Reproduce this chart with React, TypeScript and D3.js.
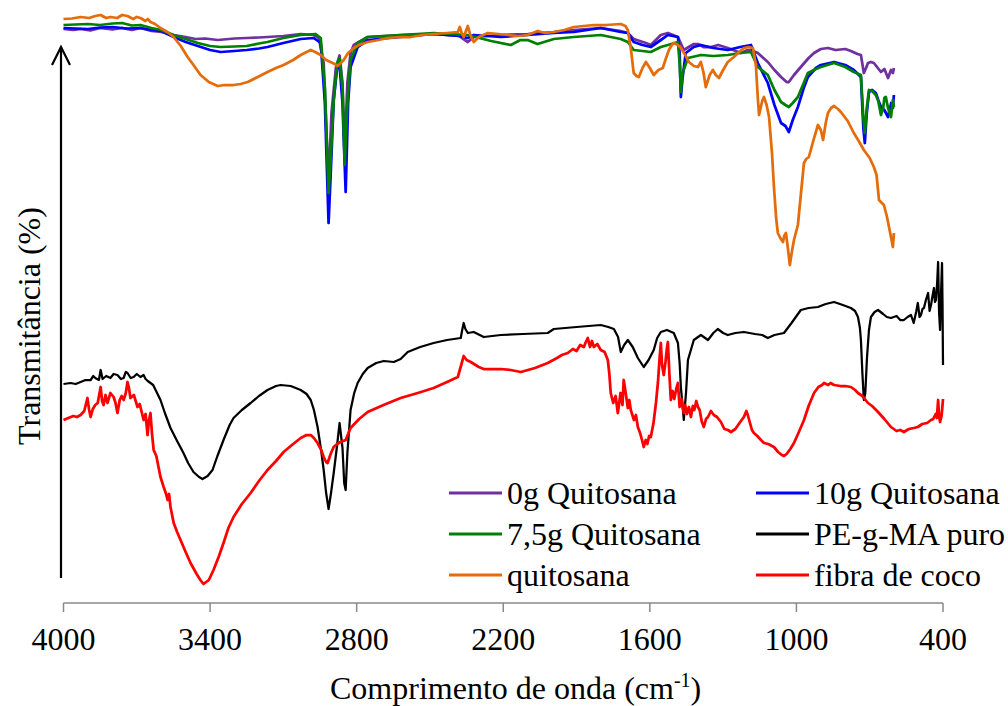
import React from "react";
import * as d3 from "d3";

type Pt = [number, number];

const xTicks: number[] = [4000, 3400, 2800, 2200, 1600, 1000, 400];

const seriesNames: string[] = [
  "0g Quitosana",
  "10g Quitosana",
  "7,5g Quitosana",
  "PE-g-MA puro",
  "quitosana",
  "fibra de coco",
];

const seriesColors: string[] = ["#7030A0", "#0000FF", "#008000", "#000000", "#E46C0A", "#FF0000"];

const q0: Pt[] = [
  [4000, 114.8], [3960, 114.6], [3930, 114.8], [3890, 114.5], [3850, 115], [3800, 114.7], [3760, 115], [3720, 114.6], [3685, 115],
  [3640, 114.4], [3600, 114.2], [3549, 113.6], [3500, 113.2], [3460, 112.8], [3420, 112.9], [3369, 112.6], [3300, 112.9], [3250, 113],
  [3200, 113.1], [3165, 113.2], [3100, 113.4], [3029, 113.8], [2975, 113.6], [2955, 113], [2935, 108], [2915, 84], [2903, 98],
  [2885, 107], [2870, 109.5], [2858, 104], [2849, 90], [2838, 104], [2825, 110], [2812, 111.6], [2755, 113.2], [2620, 113.6],
  [2485, 113.8], [2380, 113.4], [2345, 112.2], [2320, 113.2], [2210, 113.6], [2100, 113.8], [1993, 114.2], [1911, 114.6],
  [1801, 115], [1719, 114.4], [1690, 114], [1666, 112.8], [1616, 112], [1596, 111.6], [1555, 113.6], [1526, 114], [1485, 113.2],
  [1461, 110.6], [1420, 111.8], [1403, 111.8], [1380, 111.2], [1350, 111.2], [1320, 111.6], [1281, 111], [1227, 110], [1200, 110.6],
  [1186, 110.6], [1158, 110], [1117, 108.2], [1090, 106.6], [1063, 105.2], [1040, 104.2], [1031, 104.2], [1010, 105.6], [982, 107.2],
  [950, 109], [928, 110], [900, 110.8], [871, 111], [840, 110.6], [800, 110.8], [777, 110.4], [750, 109.8], [736, 109.6], [724, 106],
  [715, 107], [707, 108], [695, 108.2], [683, 108], [670, 107.2], [654, 106.2], [640, 106.8], [630, 105.6], [625, 105], [613, 106.6],
  [605, 106], [601, 107],
];

const q10: Pt[] = [
  [4000, 115], [3950, 114.9], [3900, 114.8], [3850, 115.1], [3800, 115.2], [3740, 114.9], [3685, 115], [3640, 114.6], [3600, 114.4],
  [3549, 113.2], [3500, 112.2], [3450, 111.4], [3400, 110.6], [3357, 110.2], [3300, 110.4], [3250, 110.6], [3200, 110.9], [3165, 111.2],
  [3100, 112], [3029, 112.8], [2976, 113], [2947, 112], [2930, 100], [2915, 76], [2907, 85], [2894, 100.6], [2880, 107], [2870, 107.6],
  [2858, 100], [2845, 82.2], [2835, 100], [2825, 107.2], [2796, 111.2], [2755, 112.6], [2620, 113.2], [2485, 113.8], [2380, 113.4],
  [2345, 113], [2320, 113.6], [2210, 113.2], [2100, 113.6], [1993, 114], [1911, 114.2], [1801, 115], [1719, 114.2], [1690, 114],
  [1666, 112.2], [1630, 111.6], [1596, 111.2], [1555, 112.6], [1526, 113.6], [1485, 113.2], [1478, 110], [1473, 101.2], [1466, 105],
  [1453, 110], [1420, 111.2], [1391, 111.6], [1340, 111], [1281, 110.6], [1230, 111.2], [1186, 111.6], [1158, 108], [1117, 104],
  [1090, 99.6], [1063, 96], [1045, 95.4], [1031, 94.2], [1015, 96.6], [994, 99.2], [970, 103], [953, 105.2], [920, 107], [900, 107.6],
  [846, 108.2], [800, 107.6], [765, 106.6], [736, 105.2], [726, 95], [720, 92], [712, 98], [703, 102.2], [690, 102.6], [675, 102],
  [665, 100.6], [654, 99.2], [640, 98.6], [625, 97.2], [612, 100], [605, 99], [601, 101.6],
];

const q75: Pt[] = [
  [4000, 115.6], [3950, 115.7], [3900, 115.8], [3850, 115.6], [3800, 115.9], [3760, 116], [3720, 115.5], [3685, 115.6], [3640, 115],
  [3600, 114.6], [3549, 113.6], [3500, 112.8], [3450, 112], [3400, 111.4], [3357, 111.2], [3300, 111.3], [3250, 111.4], [3200, 111.9],
  [3165, 112.2], [3100, 113], [3029, 113.6], [2968, 113.8], [2947, 113], [2930, 103], [2915, 82], [2907, 88], [2894, 100.6],
  [2880, 108], [2870, 109], [2858, 103], [2849, 87.6], [2838, 100], [2825, 108.6], [2796, 112], [2755, 113.2], [2620, 113.6],
  [2485, 114], [2345, 113.6], [2250, 112.4], [2169, 111.6], [2130, 112.6], [2100, 112.6], [2060, 111.8], [2046, 112], [1993, 112.8],
  [1911, 113.2], [1801, 113.6], [1719, 112.8], [1690, 112.2], [1666, 110.6], [1630, 110.4], [1596, 110.2], [1555, 111.2], [1526, 111.6],
  [1485, 112.2], [1478, 108], [1473, 102.2], [1466, 106], [1444, 109], [1391, 109.6], [1340, 109.4], [1281, 109.6], [1230, 110],
  [1186, 110.2], [1158, 107.2], [1117, 105.6], [1090, 102.6], [1063, 100.2], [1045, 99.6], [1031, 99.2], [1015, 100], [994, 101.2],
  [970, 104], [953, 106], [920, 106.8], [900, 107.2], [846, 108], [800, 107.2], [765, 106.2], [736, 105.6], [726, 97], [720, 94],
  [712, 99], [703, 102.6], [690, 102.4], [675, 101.6], [665, 100.4], [654, 97.6], [645, 99], [640, 101], [634, 101.2], [625, 99],
  [613, 97.2], [605, 100.6], [601, 99.2],
];

const pegma: Pt[] = [
  [4000, 43.8], [3985, 43.9], [3971, 44], [3950, 43.8], [3930, 44.2], [3910, 44.6], [3889, 44.6], [3878, 45.4], [3870, 45], [3855, 44.6],
  [3848, 46.6], [3840, 44.8], [3825, 45.4], [3808, 45], [3795, 45.8], [3779, 45.6], [3765, 44.8], [3754, 45], [3745, 46.2], [3738, 46],
  [3725, 45], [3713, 45.2], [3700, 45.8], [3685, 45.2], [3672, 45.6], [3664, 44.8], [3655, 44.4], [3644, 44], [3633, 43.6], [3623, 42.6],
  [3603, 40.6], [3585, 38], [3562, 35], [3535, 32.4], [3509, 30], [3490, 28], [3468, 26.2], [3445, 25.2], [3431, 24.8], [3410, 25.4],
  [3390, 26.6], [3370, 29.4], [3345, 32.6], [3320, 35.6], [3304, 37], [3270, 38.6], [3234, 40], [3200, 41.4], [3165, 42.6],
  [3130, 43.4], [3111, 43.6], [3070, 43.4], [3029, 42.6], [3005, 41.8], [2988, 40.6], [2975, 38.6], [2960, 35.2], [2945, 30.4],
  [2935, 26.6], [2925, 22], [2915, 18.8], [2905, 22], [2894, 26], [2880, 31.6], [2870, 36], [2858, 31], [2851, 24], [2845, 22.6],
  [2838, 30], [2825, 38.6], [2810, 42], [2796, 44], [2775, 45.8], [2755, 47], [2720, 48], [2689, 48.4], [2648, 48.2], [2620, 48.8],
  [2591, 50.2], [2540, 51.2], [2485, 52], [2430, 52.6], [2374, 53], [2368, 54.6], [2362, 56], [2355, 54.8], [2345, 54],
  [2321, 54.2], [2280, 53.2], [2210, 53.6], [2120, 53.8], [2018, 54], [1993, 54.8], [1900, 55.2], [1801, 55.6], [1770, 55.2],
  [1747, 54.8], [1730, 53.2], [1719, 50.2], [1705, 51.6], [1690, 52.6], [1670, 51.2], [1649, 49], [1625, 47.2], [1605, 48.6],
  [1584, 50.6], [1570, 53], [1555, 54.2], [1530, 54.6], [1502, 54], [1485, 52], [1478, 48], [1473, 43.2], [1461, 36.6], [1452, 42],
  [1444, 48.6], [1420, 52.6], [1391, 53.6], [1362, 52.6], [1340, 54], [1322, 54.8], [1300, 54], [1281, 53.6], [1250, 54], [1215, 54.2],
  [1170, 53.8], [1140, 53.6], [1117, 53], [1090, 53.6], [1051, 54], [1020, 56], [982, 58.6], [950, 59], [912, 59.2], [880, 59.8],
  [846, 60.2], [810, 59.6], [777, 59], [760, 58.4], [748, 57.2], [740, 55], [736, 52.6], [730, 46], [724, 40.6], [718, 42],
  [711, 49.2], [703, 54.6], [695, 57.2], [680, 58.2], [666, 58.6], [645, 57.8], [630, 57.2], [613, 57], [590, 57.4], [575, 56.6],
  [560, 56.6], [545, 57.2], [531, 57.6], [520, 56], [510, 58.2], [503, 60], [496, 57.2], [490, 57.6], [484, 58.8], [478, 59],
  [470, 60.6], [461, 62], [455, 58.4], [449, 59.6], [443, 61.4], [437, 63], [433, 60.2], [429, 60.6], [424, 64], [420, 68.2],
  [416, 58], [412, 54.6], [408, 62], [404, 68], [402, 60], [400, 47.6],
];

const quitosana: Pt[] = [
  [4000, 116.8], [3965, 116.9], [3930, 117.2], [3895, 117], [3870, 117.4], [3848, 117.6], [3825, 117], [3808, 117.2], [3780, 117],
  [3760, 117.6], [3738, 117.4], [3715, 116.8], [3700, 117.2], [3685, 117], [3665, 116.4], [3655, 116.8], [3644, 116.2], [3625, 115.8],
  [3603, 115], [3575, 114.2], [3549, 113.2], [3520, 111.4], [3492, 109.2], [3465, 107.4], [3439, 105.6], [3405, 104.2], [3369, 103.4],
  [3340, 103.6], [3304, 103.6], [3275, 103.8], [3246, 104.2], [3205, 105.2], [3165, 106.2], [3130, 107], [3099, 107.6], [3060, 108.6],
  [3029, 109.6], [3005, 110.2], [2988, 110.6], [2970, 110.2], [2947, 109.6], [2925, 108.6], [2907, 108.2], [2890, 107.8],
  [2878, 107.4], [2865, 108], [2853, 108.6], [2835, 110], [2812, 111], [2790, 111.6], [2755, 112.2], [2710, 112.6], [2673, 113],
  [2620, 113.2], [2579, 113.2], [2530, 113.6], [2485, 113.8], [2430, 114], [2386, 114.2], [2378, 115.2], [2370, 114], [2362, 113.2],
  [2345, 115.4], [2335, 113.6], [2321, 112.2], [2300, 113.2], [2263, 114], [2220, 113.8], [2182, 113.6], [2140, 113.4], [2100, 113.6],
  [2059, 114.4], [2030, 114], [1993, 114.2], [1950, 114.6], [1911, 115.2], [1870, 115.4], [1829, 115.6], [1780, 115.6], [1719, 115.8],
  [1700, 115.4], [1690, 114.6], [1678, 111], [1666, 106], [1655, 105.4], [1645, 105.2], [1630, 107], [1616, 108.2], [1600, 107],
  [1584, 105.6], [1565, 106.6], [1547, 107], [1535, 108.8], [1522, 110.6], [1510, 111.6], [1502, 112], [1485, 111.6], [1473, 111],
  [1455, 109.6], [1440, 108.2], [1420, 107.4], [1403, 107.2], [1391, 108.2], [1380, 106], [1371, 103.2], [1355, 105.6], [1342, 106.6],
  [1330, 105.6], [1317, 105], [1300, 106.6], [1281, 108.2], [1256, 109.2], [1235, 110.2], [1215, 111], [1195, 111.2], [1178, 111],
  [1166, 107.6], [1158, 101], [1153, 97.6], [1140, 100.4], [1133, 101.2], [1122, 99.6], [1112, 97.2], [1100, 90], [1092, 83.2],
  [1083, 77], [1076, 74], [1066, 73], [1055, 72.2], [1050, 73.4], [1043, 74], [1035, 71], [1027, 67.6], [1018, 70.4], [1010, 72.6],
  [994, 75.6], [982, 81.6], [969, 88], [960, 88.8], [949, 89.2], [930, 92.6], [912, 95.6], [900, 94.6], [891, 92.6], [880, 96],
  [871, 98], [858, 99], [846, 99.4], [830, 98.8], [818, 98.2], [790, 96.4], [765, 94], [745, 92.4], [724, 90.6], [700, 89],
  [683, 87.2], [672, 85.6], [662, 80.6], [650, 80], [642, 79.6], [630, 77.4], [621, 75.2], [605, 71.2], [601, 74],
];

const fibra: Pt[] = [
  [4000, 36.6], [3980, 37], [3960, 37.4], [3945, 37.2], [3930, 37.6], [3915, 38.4], [3902, 41], [3895, 38.6], [3889, 37.2], [3880, 38.8],
  [3870, 39.6], [3860, 40], [3848, 43.2], [3842, 40.4], [3836, 39.6], [3828, 41.6], [3820, 40], [3808, 42], [3795, 41.2], [3788, 40.2],
  [3779, 38], [3770, 40.6], [3762, 41.4], [3754, 40.6], [3745, 42], [3738, 44.2], [3732, 43], [3726, 41], [3712, 41.6], [3697, 39.2],
  [3688, 39.8], [3680, 38.2], [3672, 36.6], [3664, 37.8], [3656, 33.6], [3650, 36.6], [3644, 38], [3638, 34], [3631, 30.6],
  [3620, 29.4], [3603, 25.2], [3590, 23.2], [3580, 21.8], [3574, 20.6], [3568, 21.8], [3562, 19.2], [3549, 16], [3535, 14.2],
  [3521, 12.6], [3500, 10.2], [3480, 8], [3455, 5.8], [3440, 4.6], [3427, 3.8], [3405, 4.6], [3386, 6.6], [3365, 9.2], [3345, 12],
  [3325, 15], [3304, 17.2], [3270, 19.8], [3234, 22], [3200, 24.4], [3165, 26.6], [3130, 28.4], [3099, 30.2], [3060, 31.8],
  [3029, 33], [3005, 33.6], [2988, 33.6], [2975, 33], [2960, 32], [2945, 30.6], [2935, 29.2], [2925, 28.2], [2919, 28], [2905, 30],
  [2894, 31.2], [2880, 31.8], [2866, 32.2], [2855, 32.4], [2845, 32.6], [2835, 33.8], [2825, 35], [2790, 36.8], [2755, 38.2],
  [2690, 39.6], [2620, 41], [2550, 42], [2485, 43], [2430, 44.2], [2386, 45.2], [2372, 47.6], [2362, 49.4], [2350, 48.6], [2333, 48.2],
  [2300, 47.2], [2280, 46.8], [2210, 46.8], [2170, 46.6], [2128, 46.2], [2070, 47], [2018, 48], [1980, 49], [1960, 49.6],
  [1936, 50], [1915, 50.8], [1900, 50.4], [1885, 51.6], [1870, 51.2], [1862, 52.2], [1854, 53], [1845, 51.2], [1837, 52.4],
  [1829, 51.2], [1815, 51.8], [1801, 50.6], [1785, 50.2], [1772, 48.6], [1766, 46], [1760, 42], [1750, 40], [1740, 41.4], [1731, 38],
  [1720, 42], [1712, 39.6], [1707, 44.6], [1700, 42.4], [1690, 39], [1684, 40.6], [1678, 38.6], [1665, 36.6], [1657, 37.6],
  [1649, 35.2], [1640, 34], [1632, 32.6], [1625, 31.2], [1617, 32.6], [1610, 31.8], [1603, 33.4], [1596, 33.2], [1585, 36],
  [1575, 40], [1567, 44], [1560, 49], [1555, 52], [1550, 47.6], [1543, 45.6], [1536, 48.2], [1530, 51], [1526, 52.2], [1520, 45.8],
  [1514, 40.6], [1507, 42.4], [1500, 40.8], [1492, 42.8], [1485, 44], [1478, 39.2], [1470, 40.8], [1461, 38], [1455, 39.6],
  [1448, 37.8], [1440, 39.2], [1432, 37.2], [1424, 39.4], [1418, 38.6], [1410, 40.4], [1403, 39.2], [1396, 38.6], [1388, 36.4],
  [1379, 35.2], [1370, 36.8], [1362, 37.2], [1350, 38.4], [1338, 37.6], [1325, 37.2], [1309, 36.2], [1295, 34.8], [1280, 34.6],
  [1268, 34.2], [1250, 34.8], [1230, 36.2], [1215, 37.2], [1205, 38.4], [1199, 37.6], [1190, 36], [1182, 34.6], [1174, 34],
  [1160, 33.4], [1145, 32.6], [1133, 32], [1115, 31.8], [1100, 31.4], [1092, 31.2], [1075, 30.2], [1060, 29.6], [1051, 29.4],
  [1040, 29.8], [1025, 30.8], [1010, 32], [990, 34.2], [969, 36.6], [950, 39.4], [928, 42], [910, 43.2], [895, 43.6], [887, 44],
  [870, 43.6], [860, 44], [846, 43.6], [820, 43.4], [800, 43.4], [777, 43.2], [760, 42.6], [748, 42], [730, 41.4], [707, 40],
  [690, 39.4], [666, 38.2], [640, 36.8], [613, 35.2], [590, 34.4], [575, 34.6], [560, 34.2], [540, 34.8], [520, 35], [503, 35.2],
  [485, 35.8], [465, 36], [449, 36.6], [440, 36.8], [430, 37.8], [425, 37], [420, 40.6], [416, 37.4], [412, 36.2], [406, 37.4],
  [403, 39], [400, 40.8],
];

const seriesData: Pt[][] = [q0, q10, q75, pegma, quitosana, fibra];
const seriesWidths: number[] = [2.75, 2.75, 2.75, 2.25, 2.75, 2.75];

const W = 1008;
const H = 706;
const FONT = '"Liberation Serif", "Times New Roman", Times, "DejaVu Serif", serif';

export default function App() {
  const x = d3.scaleLinear().domain([4000, 400]).range([63.5, 943]);
  const y = d3.scaleLinear().domain([0, 120]).range([603, 3]);
  const line = d3
    .line<Pt>()
    .x((d) => x(d[0]))
    .y((d) => y(d[1]))
    .curve(d3.curveLinear);

  const axisY = y(0);
  const legendX = [449, 756];
  const legendY = [493, 534, 575];
  const textStyle: React.CSSProperties = { fontFamily: FONT };

  return (
    <svg
      width={W}
      height={H}
      viewBox={`0 0 ${W} ${H}`}
      style={{ position: "absolute", left: 0, top: 0, background: "#fff", fontFamily: FONT }}
    >
      <rect x={0} y={0} width={W} height={H} fill="#fff" />
      {/* x axis */}
      <line x1={x(4000)} x2={x(400)} y1={axisY} y2={axisY} stroke="#898989" strokeWidth={1.5} />
      {xTicks.map((t) => (
        <g key={t}>
          <line x1={x(t)} x2={x(t)} y1={axisY} y2={axisY + 9} stroke="#898989" strokeWidth={1.5} />
          <text x={x(t)} y={650} textAnchor="middle" fontSize={32} fill="#000" style={textStyle}>
            {t}
          </text>
        </g>
      ))}
      {/* y arrow */}
      <line x1={61} x2={61} y1={578} y2={47} stroke="#000" strokeWidth={2.2} />
      <polyline points="52,65 61,47 70,65" fill="none" stroke="#000" strokeWidth={2.2} />
      {/* series */}
      {seriesData.map((d, i) => (
        <path
          key={seriesNames[i]}
          d={line(d) || ""}
          fill="none"
          stroke={seriesColors[i]}
          strokeWidth={seriesWidths[i]}
          strokeLinejoin="round"
        />
      ))}
      {/* legend */}
      {seriesNames.map((n, i) => {
        const lx = legendX[i % 2];
        const ly = legendY[Math.floor(i / 2)];
        return (
          <g key={n}>
            <line x1={lx} x2={lx + 53} y1={ly} y2={ly} stroke={seriesColors[i]} strokeWidth={3} />
            <text x={lx + 58} y={ly + 11} fontSize={32} fill="#000" style={textStyle}>
              {n}
            </text>
          </g>
        );
      })}
      {/* axis titles */}
      <text x={330} y={699} fontSize={32} fill="#000" style={textStyle}>
        Comprimento de onda (cm
        <tspan dy={-12} fontSize={20}>-1</tspan>
        <tspan dy={12}>)</tspan>
      </text>
      <text
        transform={`translate(40, 326) rotate(-90)`}
        textAnchor="middle"
        fontSize={32}
        fill="#000"
        style={textStyle}
      >
        Transmitância (%)
      </text>
    </svg>
  );
}
